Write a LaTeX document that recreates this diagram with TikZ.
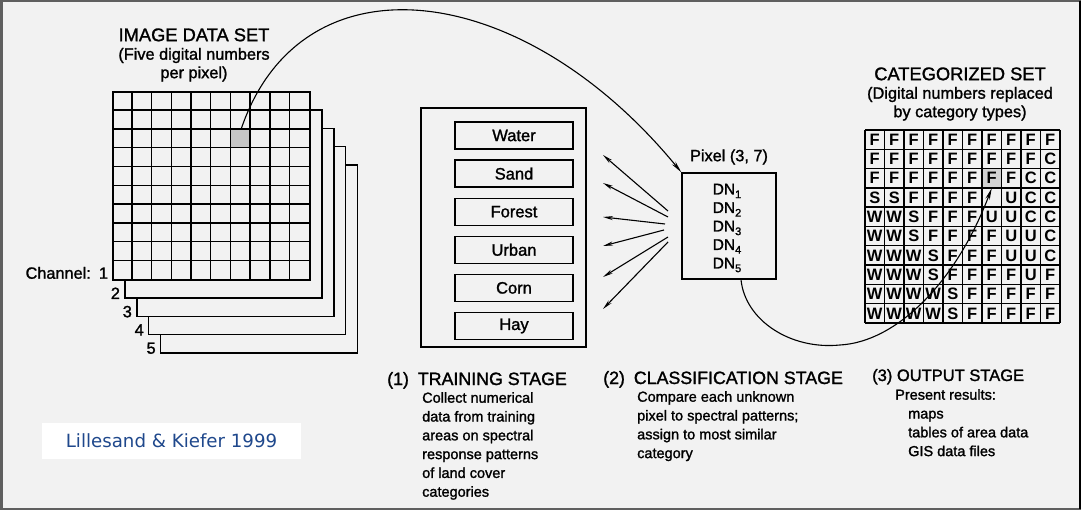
\documentclass[tikz,border=0pt]{standalone}
\usepackage{fontspec}
\setmainfont{Liberation Sans}[UprightFeatures={RawFeature={embolden=1.4}}]
\newfontfamily\creditfont{DejaVu Sans}
\usetikzlibrary{arrows.meta,calc}
\definecolor{scanbg}{RGB}{242,242,242}
\definecolor{creditblue}{RGB}{31,72,140}
\definecolor{framegray}{RGB}{95,95,95}
\newcommand{\titlefont}{\fontsize{18.3}{19}\selectfont}
\newcommand{\subfont}{\fontsize{16.3}{18.5}\selectfont}
\newcommand{\stagehead}{\fontsize{17.8}{19}\selectfont}
\newcommand{\stagebody}{\fontsize{14.5}{18.8}\selectfont}
\newcommand{\dnum}[1]{DN\raisebox{-0.45ex}{\fontsize{11}{11}\selectfont #1}}
\tikzset{
  layer/.style={draw, fill=scanbg, line width=1.5pt, minimum width=197pt, minimum height=188pt, inner sep=0pt},
  gridline/.style={line width=1.4pt},
  classbox/.style={draw, line width=1.3pt, minimum width=118pt, minimum height=27pt, font=\fontsize{16.5}{19}\selectfont},
  catcell/.style={minimum width=19.5pt, minimum height=19.3pt, inner sep=0pt, font=\fontsize{16.5}{16.5}\selectfont\bfseries},
  txt/.style={inner sep=0pt},
  fanarrow/.style={-{Stealth[length=10pt,width=4pt]}, line width=1.1pt},
  linkarrow/.style={-{Stealth[length=12pt,width=4.5pt]}, line width=1.1pt},
}
\begin{document}
\begin{tikzpicture}[x=1pt,y=-1pt]
\useasboundingbox (0,0) rectangle (1081,510);
\fill[scanbg] (0,0) rectangle (1081,510);
\draw[framegray, line width=2.5pt] (1.25,1.25) rectangle (1079.75,508.75);
\draw[black, line width=2.5pt] (1079.75,1.25) -- (1079.75,508.75);

% image data set
\node[align=center, font=\subfont] (imgtitle) at (194,55) {{\titlefont IMAGE DATA SET}\\(Five digital numbers\\per pixel)};
\foreach \k in {5,4,3,2,1}
  \node[layer] (ch\k) at ({211.5+11.9*(\k-1)},{186+18.25*(\k-1)}) {};
\node[fill=gray!45, minimum width=19.7pt, minimum height=18.8pt, inner sep=0pt] (pix) at (241.05,139) {};
\foreach \i in {1,...,9} {
  \draw[gridline] ($(ch1.north west)+(19.7*\i,0)$) -- ($(ch1.south west)+(19.7*\i,0)$);
  \draw[gridline] ($(ch1.north west)+(0,18.8*\i)$) -- ($(ch1.north east)+(0,18.8*\i)$);
}
\node[anchor=base east, font=\subfont, txt] (chl1) at ($(ch1.south west)+(-4,-2)$) {Channel:\enspace1};
\foreach \k in {2,...,5}
  \node[anchor=base east, font=\subfont, txt] (chl\k) at ($(ch\k.south west)+(-4,0)$) {\k};

% training stage
\node[draw, line width=1.3pt, minimum width=165pt, minimum height=239pt] (train) at (503.5,227.5) {};
\foreach \name [count=\i] in {Water,Sand,Forest,Urban,Corn,Hay}
  \node[classbox] (cls\i) at (514,{135.5+38.1*(\i-1)}) {\name};

% spectral comparison
\foreach \i/\sx/\sy/\ty in {1/668/211/155, 2/668/217/183, 3/665/224/217, 4/664/230/246, 5/668/237/277, 6/668/242/309} {
  \coordinate (fs\i) at (\sx,\sy);
  \coordinate (ft\i) at (603,\ty);
  \draw[fanarrow] (fs\i) -- (ft\i);
}
\node[draw, line width=1.3pt, minimum width=94pt, minimum height=106pt] (pbox) at (729,226) {};
\node[font=\subfont, txt] (plabel) at (729,157) {Pixel (3, 7)};
\node[align=center, font=\fontsize{15.5}{18.5}\selectfont, txt] (dns) at (727,228) {\dnum1\\\dnum2\\\dnum3\\\dnum4\\\dnum5};
\draw[linkarrow] (pix.north) .. controls (301,-48) and (522,-22) .. (pbox.north west);

% categorized set
\node[align=center, font=\subfont] (cattitle) at (960,94) {{\titlefont CATEGORIZED SET}\\(Digital numbers replaced\\by category types)};
\node[fill=gray!35, minimum width=19.5pt, minimum height=19.3pt, inner sep=0pt] (catpix) at (991.75,178.25) {};
\foreach \cells [count=\r] in {
  {F,F,F,F,F,F,F,F,F,F},
  {F,F,F,F,F,F,F,F,F,C},
  {F,F,F,F,F,F,F,F,C,C},
  {S,S,F,F,F,F,{},U,C,C},
  {W,W,S,F,F,F,U,U,C,C},
  {W,W,S,F,F,F,F,U,U,C},
  {W,W,W,S,F,F,F,U,U,C},
  {W,W,W,S,F,F,F,F,U,F},
  {W,W,W,W,S,F,F,F,F,F},
  {W,W,W,W,S,F,F,F,F,F}} {
  \foreach \c [count=\k] in \cells
    \node[catcell] (cat-\r-\k) at ({865+19.5*(\k-0.5)},{130+19.3*(\r-0.5)}) {\c};
}
\foreach \i in {0,...,10} {
  \draw[gridline] ({865+19.5*\i},130) -- ({865+19.5*\i},323);
  \draw[gridline] (865,{130+19.3*\i}) -- (1060,{130+19.3*\i});
}
\coordinate (pout) at ($(pbox.south)+(12,0)$);
\draw[linkarrow] (pout) .. controls (745,320) and (790,350) .. (840,345)
  .. controls (895,342) and (955,285) .. (cat-3-7.south);

% stage texts
\node[anchor=base west, font=\stagehead, txt] (s1) at (387,385) {(1)\enspace TRAINING STAGE};
\node[anchor=north west, align=left, font=\stagebody, txt] (s1text) at (422,392) {Collect numerical\\data from training\\areas on spectral\\response patterns\\of land cover\\categories};
\node[anchor=base west, font=\stagehead, txt] (s2) at (603,384) {(2)\enspace CLASSIFICATION STAGE};
\node[anchor=north west, align=left, font=\stagebody, txt] (s2text) at (637,391) {Compare each unknown\\pixel to spectral patterns;\\assign to most similar\\category};
\node[anchor=base west, font=\fontsize{16.5}{19}\selectfont, txt] (s3) at (872,381) {(3) OUTPUT STAGE};
\node[anchor=north west, align=left, font=\stagebody, txt] (s3text) at (895,389) {Present results:\\\hspace*{13pt}maps\\\hspace*{13pt}tables of area data\\\hspace*{13pt}GIS data files};

% credit
\node[fill=white, minimum width=259pt, minimum height=36pt, font=\creditfont\fontsize{18.2}{20}\selectfont, text=creditblue] (credit) at (171.5,441) {Lillesand \& Kiefer 1999};
\end{tikzpicture}
\end{document}
